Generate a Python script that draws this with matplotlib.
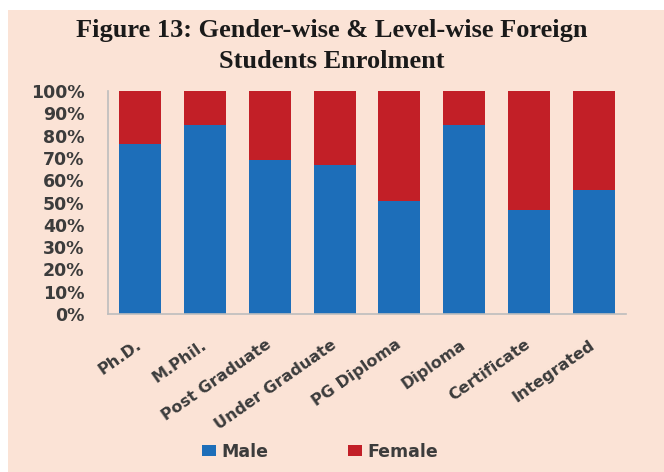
"""
Gender-wise & level-wise foreign students enrolment, 100% stacked bars.
"""

import matplotlib.pyplot as plt
from matplotlib.patches import Patch, Rectangle

levels = ["Ph.D.", "M.Phil.", "Post Graduate", "Under Graduate",
          "PG Diploma", "Diploma", "Certificate", "Integrated"]
male_pct = [76.4, 84.7, 69.2, 66.7, 50.5, 84.7, 46.8, 55.7]
female_pct = [23.6, 15.3, 30.8, 33.3, 49.5, 15.3, 53.2, 44.3]
yticks = [0, 10, 20, 30, 40, 50, 60, 70, 80, 90, 100]

BLUE = "#1d6eb9"
RED = "#c21f27"
BG = "#fbe3d6"
TXT = "#3c3c3c"


def main():
    W, H = 664, 472
    fig = plt.figure(figsize=(W / 100, H / 100), dpi=100, facecolor="white")
    fig.patches.append(Rectangle((8 / W, 0), 1, 1 - 10 / H, transform=fig.transFigure,
                                 facecolor=BG, edgecolor="none", zorder=-10))

    ax = fig.add_axes([108 / W, 1 - 314 / H, (626 - 108) / W, (314 - 91) / H])
    ax.set_facecolor("none")

    x = range(len(levels))
    ax.bar(x, male_pct, width=0.645, color=BLUE, label="Male")
    ax.bar(x, female_pct, width=0.645, bottom=male_pct, color=RED, label="Female")

    ax.set_xlim(-0.5, len(levels) - 0.5)
    ax.set_ylim(0, 100)
    ax.set_yticks(yticks)
    ax.set_yticklabels([f"{v}%" for v in yticks])
    ax.set_xticks(list(x))
    ax.set_xticklabels(levels, rotation=35, ha="right", va="center", rotation_mode="anchor")

    for s in ["top", "right"]:
        ax.spines[s].set_visible(False)
    for s in ["left", "bottom"]:
        ax.spines[s].set_color("#bdbdbd")
        ax.spines[s].set_linewidth(1.2)
    ax.tick_params(axis="y", length=0, pad=17, labelsize=12.5, labelcolor=TXT)
    ax.tick_params(axis="x", length=0, pad=21, labelsize=11.5, labelcolor=TXT)
    for lab in ax.get_xticklabels() + ax.get_yticklabels():
        lab.set_fontweight("bold")

    fig.text(0.5, 1 - 37 / H, "Figure 13: Gender-wise & Level-wise Foreign",
             ha="center", va="baseline", family="Liberation Serif",
             fontweight="bold", fontsize=19, color="#1a1a1a")
    fig.text(0.5, 1 - 68 / H, "Students Enrolment",
             ha="center", va="baseline", family="Liberation Serif",
             fontweight="bold", fontsize=19, color="#1a1a1a")

    handles = [Patch(facecolor=BLUE, label="Male"), Patch(facecolor=RED, label="Female")]
    leg = fig.legend(handles=handles, ncol=2, frameon=False, loc="center",
                     bbox_to_anchor=(320 / W, 1 - 452 / H),
                     handlelength=0.8, handleheight=0.6, handletextpad=0.3,
                     columnspacing=4.6, prop={"size": 12.5, "weight": "bold"})
    for t in leg.get_texts():
        t.set_color(TXT)

    fig.savefig("out.png", dpi=100, facecolor=fig.get_facecolor())


if __name__ == "__main__":
    main()
